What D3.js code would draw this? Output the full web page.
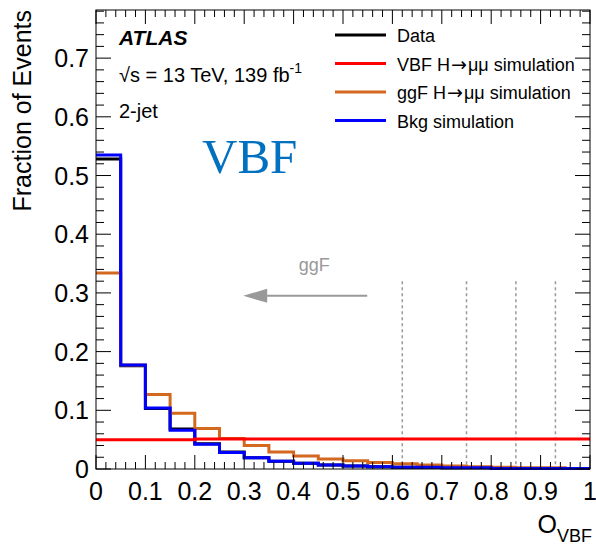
<!DOCTYPE html>
<html>
<head>
<meta charset="utf-8">
<script src="https://cdn.jsdelivr.net/npm/d3@7"></script>
<style>
  body { margin: 0; background: #fff; }
  svg { display: block; font-family: "Liberation Sans", Arial, Helvetica, sans-serif; }
</style>
</head>
<body>
<div id="chart"></div>
<script>
// O_VBF bins, width 0.05 from 0 to 1
const binWidth = 0.05;
const dataFrac = [0.528, 0.176, 0.103, 0.068, 0.043, 0.029, 0.019, 0.013, 0.010, 0.007,
  0.005, 0.004, 0.003, 0.003, 0.002, 0.002, 0.001, 0.001, 0.001, 0.001];
const vbfFrac = [0.050, 0.050, 0.050, 0.050, 0.051, 0.051, 0.051, 0.051, 0.051, 0.051,
  0.051, 0.051, 0.051, 0.051, 0.051, 0.051, 0.051, 0.051, 0.051, 0.051];
const ggfFrac = [0.334, 0.177, 0.127, 0.095, 0.069, 0.052, 0.040, 0.029, 0.022, 0.017,
  0.014, 0.011, 0.009, 0.007, 0.005, 0.004, 0.003, 0.002, 0.002, 0.001];
const bkgFrac = [0.535, 0.177, 0.104, 0.066, 0.042, 0.028, 0.019, 0.013, 0.010, 0.007,
  0.005, 0.004, 0.003, 0.003, 0.002, 0.002, 0.001, 0.001, 0.001, 0.001];

const boundaries = [0.62, 0.75, 0.85, 0.93];
const boundaryTop = 0.32;
const xTicks = [0, 0.1, 0.2, 0.3, 0.4, 0.5, 0.6, 0.7, 0.8, 0.9, 1];
const yTicks = [0, 0.1, 0.2, 0.3, 0.4, 0.5, 0.6, 0.7];
// legend entries: [before arrow, after arrow]
const legendLabels = [['Data'], ['VBF H', '\u03bc\u03bc simulation'], ['ggF H', '\u03bc\u03bc simulation'], ['Bkg simulation']];
const legendColors = ['#000000', '#ff0000', '#d2691e', '#0000ff'];
// arrow pointing to the ggF-like region: [tail, tip] in O_VBF, at height arrowY
const arrowX = [0.549, 0.298];
const arrowY = 0.295;

const width = 596;
const height = 546;
const margin = { top: 10, right: 6, bottom: 77, left: 96 };

const svg = d3.select('#chart').append('svg')
  .attr('width', width)
  .attr('height', height);

const x = d3.scaleLinear().domain([0, 1]).range([margin.left, width - margin.right]);
const y = d3.scaleLinear().domain([0, 0.782]).range([height - margin.bottom, margin.top]);

function histPoints(values) {
  const pts = [];
  values.forEach((v, i) => {
    pts.push([i * binWidth, v]);
    pts.push([(i + 1) * binWidth, v]);
  });
  return pts;
}

const line = d3.line()
  .x((d) => x(d[0]))
  .y((d) => y(d[1]));

// dashed category boundaries
svg.selectAll('line.bnd')
  .data(boundaries)
  .enter()
  .append('line')
  .attr('x1', (d) => x(d))
  .attr('x2', (d) => x(d))
  .attr('y1', y(boundaryTop))
  .attr('y2', y(0))
  .attr('stroke', '#999')
  .attr('stroke-width', 1.5)
  .attr('stroke-dasharray', '3,3');

// histograms
const series = [
  { values: dataFrac, color: legendColors[0] },
  { values: ggfFrac, color: legendColors[2] },
  { values: bkgFrac, color: legendColors[3] },
  { values: vbfFrac, color: legendColors[1] },
];
series.forEach((s) => {
  svg.append('path')
    .attr('d', line(histPoints(s.values)))
    .attr('fill', 'none')
    .attr('stroke', s.color)
    .attr('stroke-width', 3)
    .attr('stroke-linejoin', 'miter');
});

// frame
svg.append('rect')
  .attr('x', x(0))
  .attr('y', y(0.782))
  .attr('width', x(1) - x(0))
  .attr('height', y(0) - y(0.782))
  .attr('fill', 'none')
  .attr('stroke', '#000')
  .attr('stroke-width', 1);

// inward ticks (ROOT style)
const xMinor = d3.range(0, 51).map((i) => i * 0.02);
const yMinor = d3.range(0, 40).map((i) => i * 0.02).filter((v) => v <= 0.782);

function tickLen(v, major) {
  return Math.abs(v / major - Math.round(v / major)) < 1e-6 ? 14 : 7;
}

const ticks = svg.append('g').attr('stroke', '#000').attr('stroke-width', 1);
xMinor.forEach((v) => {
  const len = tickLen(v, 0.1);
  ticks.append('line').attr('x1', x(v)).attr('x2', x(v))
    .attr('y1', y(0)).attr('y2', y(0) - len);
  ticks.append('line').attr('x1', x(v)).attr('x2', x(v))
    .attr('y1', y(0.782)).attr('y2', y(0.782) + len);
});
yMinor.forEach((v) => {
  const len = tickLen(v, 0.1) + 1;
  ticks.append('line').attr('x1', x(0)).attr('x2', x(0) + len)
    .attr('y1', y(v)).attr('y2', y(v));
  ticks.append('line').attr('x1', x(1)).attr('x2', x(1) - len)
    .attr('y1', y(v)).attr('y2', y(v));
});

// tick labels
svg.selectAll('text.xl')
  .data(xTicks)
  .enter()
  .append('text')
  .attr('x', (d) => x(d))
  .attr('y', y(0) + 31)
  .attr('text-anchor', 'middle')
  .attr('font-size', 25)
  .text((d) => d3.format('~g')(d));

svg.selectAll('text.yl')
  .data(yTicks)
  .enter()
  .append('text')
  .attr('x', x(0) - 7)
  .attr('y', (d) => y(d) + 9)
  .attr('text-anchor', 'end')
  .attr('font-size', 25)
  .text((d) => d3.format('~g')(d));

// axis titles
svg.append('text')
  .attr('transform', `translate(31,${margin.top}) rotate(-90)`)
  .attr('text-anchor', 'end')
  .attr('font-size', 25)
  .text('Fraction of Events');

const xTitle = svg.append('text')
  .attr('x', width - 4)
  .attr('y', 533)
  .attr('text-anchor', 'end')
  .attr('font-size', 25);
xTitle.append('tspan').text('O');
xTitle.append('tspan').attr('font-size', 18).attr('dy', 9).text('VBF');

// ATLAS labels
svg.append('text')
  .attr('x', 119).attr('y', 45)
  .attr('font-size', 21)
  .attr('font-weight', 'bold')
  .attr('font-style', 'italic')
  .text('ATLAS');

const energy = svg.append('text')
  .attr('x', 119).attr('y', 82)
  .attr('font-size', 20);
energy.append('tspan').text('\u221as = 13 TeV, 139 fb');
energy.append('tspan').attr('font-size', 14).attr('dy', -9).text('-1');

svg.append('text')
  .attr('x', 119).attr('y', 118)
  .attr('font-size', 20)
  .text('2-jet');

svg.append('text')
  .attr('x', 202).attr('y', 173)
  .attr('font-family', '"Liberation Serif", "Times New Roman", serif')
  .attr('font-size', 49)
  .attr('fill', '#0070c0')
  .text('VBF');

// legend
const legend = svg.append('g');
legendLabels.forEach((parts, i) => {
  const ly = 35 + i * 28.5;
  legend.append('line')
    .attr('x1', 335).attr('x2', 386)
    .attr('y1', ly).attr('y2', ly)
    .attr('stroke', legendColors[i])
    .attr('stroke-width', 3);
  const t = legend.append('text')
    .attr('x', 397).attr('y', ly + 7)
    .attr('font-size', 18);
  t.append('tspan').text(parts[0]);
  if (parts.length > 1) {
    t.append('tspan')
      .attr('font-family', '"DejaVu Sans", sans-serif')
      .attr('font-size', 19)
      .attr('dx', 1)
      .text('\u2192');
    t.append('tspan').attr('dx', 1).text(parts[1]);
  }
});

// ggF arrow
const headLen = 24;
svg.append('line')
  .attr('x1', x(arrowX[0])).attr('x2', x(arrowX[1]) + headLen)
  .attr('y1', y(arrowY)).attr('y2', y(arrowY))
  .attr('stroke', '#999')
  .attr('stroke-width', 2);
svg.append('path')
  .attr('d', `M${x(arrowX[1])},${y(arrowY)} L${x(arrowX[1]) + headLen},${y(arrowY) - 7} L${x(arrowX[1]) + headLen},${y(arrowY) + 7} Z`)
  .attr('fill', '#999');
svg.append('text')
  .attr('x', (x(arrowX[0]) + x(arrowX[1])) / 2 + 9)
  .attr('y', y(arrowY) - 25)
  .attr('text-anchor', 'middle')
  .attr('font-size', 18)
  .attr('fill', '#999')
  .text('ggF');
</script>
</body>
</html>
